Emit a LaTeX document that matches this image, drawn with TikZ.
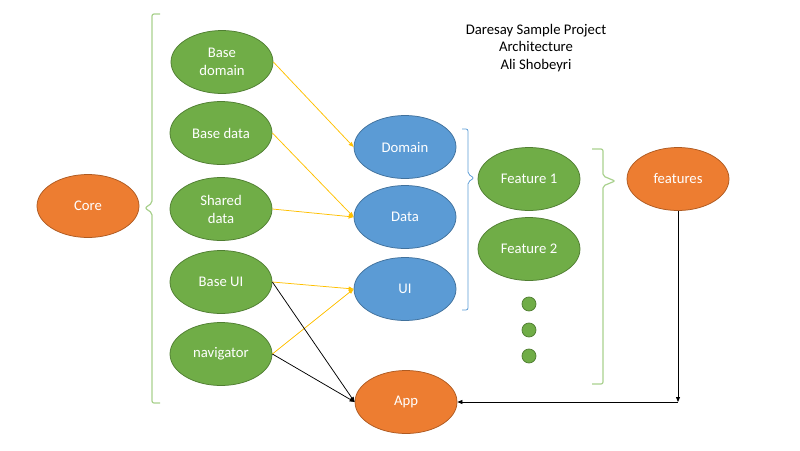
\documentclass[tikz,border=0pt]{standalone}
\usepackage{fontspec}
\setmainfont{Carlito}
\usetikzlibrary{shapes.geometric,arrows.meta}

\definecolor{grn}{HTML}{70AD47}
\definecolor{grnline}{HTML}{507E32}
\definecolor{org}{HTML}{ED7D31}
\definecolor{orgline}{HTML}{AE5A21}
\definecolor{blu}{HTML}{5B9BD5}
\definecolor{bluline}{HTML}{41719C}
\definecolor{brc}{HTML}{A9D18E}
\definecolor{ylw}{HTML}{FFC000}

\begin{document}
\begin{tikzpicture}[x=1pt,y=-1pt,line width=0.75pt,
    font=\fontsize{14.7}{17.9}\selectfont,
    module/.style={ellipse,draw,text=white,align=center,inner sep=0pt,
        minimum width=102pt,minimum height=63pt},
    gmod/.style={module,fill=grn,draw=grnline},
    omod/.style={module,fill=org,draw=orgline},
    bmod/.style={module,fill=blu,draw=bluline},
    dot/.style={circle,fill=grn,draw=grnline,inner sep=0pt,minimum size=14pt},
    uses/.style={ylw,-{Triangle[length=5pt,width=4pt]}},
    builds/.style={black,-{Triangle[length=5pt,width=4pt]}}]
    \useasboundingbox (0,0) rectangle (800,450);

    \node (title) at (536,48) [align=center] {Daresay Sample Project\\Architecture\\Ali Shobeyri};

    \node[omod] (core) at (88,206) {Core};
    \node[gmod] (bdomain) at (222,62) {Base\\domain};
    \node[gmod] (bdata) at (221,133) {Base data};
    \node[gmod] (sdata) at (221,209) {Shared\\data};
    \node[gmod] (bui) at (221,282) {Base UI};
    \node[gmod] (nav) at (221,354) {navigator};

    \node[bmod] (domain) at (405,147) {Domain};
    \node[bmod] (data) at (405,217) {Data};
    \node[bmod] (ui) at (405,289) {UI};

    \node[gmod] (feat1) at (529,179) {Feature 1};
    \node[gmod] (feat2) at (529,249) {Feature 2};
    \node[dot] (dot1) at (529,304) {};
    \node[dot] (dot2) at (529,330) {};
    \node[dot] (dot3) at (529,356) {};

    \node[omod] (features) at (678,179) {features};
    \node[omod] (app) at (406,402) {App};
    \coordinate (turn) at (678,402);

    \draw[brc,line width=1.2pt,rounded corners=2pt] (160,14) -- (152,14) -- (152,203) -- (145,208) -- (152,213) -- (152,403) -- (160,403);
    \draw[blu,rounded corners=2pt] (462,129) -- (468,129) -- (468,174) -- (474,178) -- (468,182) -- (468,310) -- (462,310);
    \draw[brc,line width=1.2pt,rounded corners=2pt] (592,149) -- (603,149) -- (603,176) -- (615,181) -- (603,186) -- (603,384) -- (592,384);

    \draw[uses] (bdomain.east) -- (domain.west);
    \draw[uses] (bdata.east) -- (data.west);
    \draw[uses] (sdata.east) -- (data.west);
    \draw[uses] (bui.east) -- (ui.west);
    \draw[uses] (nav.east) -- (ui.west);
    \draw[builds] (bui.east) -- (app.west);
    \draw[builds] (nav.east) -- (app.west);
    \draw[builds] (features.south) -- (turn);
    \draw[builds] (turn) -- (app.east);
\end{tikzpicture}
\end{document}
